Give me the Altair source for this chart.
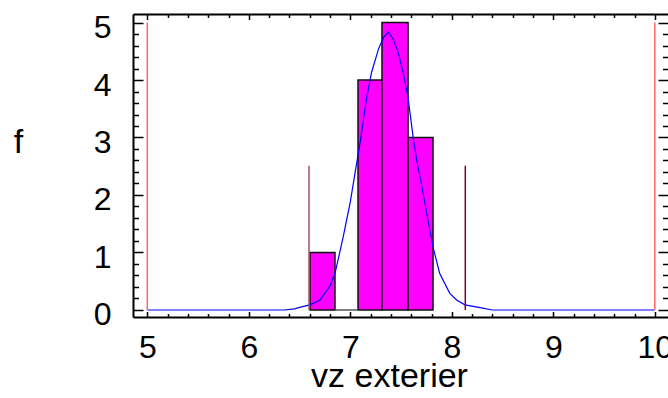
import altair as alt
import pandas as pd

# ---- data ----
bin_lo = [6.603, 7.076, 7.312, 7.569]
bin_hi = [6.849, 7.312, 7.569, 7.815]
counts = [1, 4, 5, 3]

empty_lo = [6.849]
empty_hi = [7.076]
empty_level = [0]

curve_x = [5.0, 6.35, 6.45, 6.51, 6.60, 6.70, 6.80, 6.85, 6.93, 7.00, 7.05, 7.10,
           7.16, 7.21, 7.28, 7.33, 7.375, 7.42, 7.47, 7.52, 7.57, 7.62, 7.66, 7.70,
           7.77, 7.82, 7.88, 7.98, 8.05, 8.13, 8.28, 8.40, 10.0]
curve_y = [0.0, 0.0, 0.02, 0.05, 0.09, 0.17, 0.42, 0.64, 1.27, 1.88, 2.42, 2.95,
           3.68, 4.14, 4.55, 4.75, 4.83, 4.72, 4.49, 4.14, 3.68, 2.99, 2.55, 2.20,
           1.51, 1.06, 0.64, 0.29, 0.17, 0.09, 0.04, 0.0, 0.0]

limit_x = [5.0, 10.0]
limit_top = [5.0, 5.0]

spec_left_x = [6.593]
spec_right_x = [8.133]
spec_top = [2.51]

x_major = [5, 6, 7, 8, 9, 10]
x_minor = [5.2, 5.4, 5.6, 5.8, 6.2, 6.4, 6.6, 6.8, 7.2, 7.4, 7.6, 7.8,
           8.2, 8.4, 8.6, 8.8, 9.2, 9.4, 9.6, 9.8]
y_major = [0, 1, 2, 3, 4, 5]
y_minor = [0.2, 0.4, 0.6, 0.8, 1.2, 1.4, 1.6, 1.8, 2.2, 2.4, 2.6, 2.8,
           3.2, 3.4, 3.6, 3.8, 4.2, 4.4, 4.6, 4.8]

X_DOMAIN = [4.859, 10.13]
Y_DOMAIN = [-0.122, 5.148]

FONT = "Liberation Sans"

bars_df = pd.DataFrame({"lo": bin_lo, "hi": bin_hi, "count": counts})
empty_df = pd.DataFrame({"lo": empty_lo, "hi": empty_hi, "level": empty_level})
curve_df = pd.DataFrame({"x": curve_x, "y": curve_y})
limit_df = pd.DataFrame({"x": limit_x, "top": limit_top, "bottom": [0, 0]})
specl_df = pd.DataFrame({"x": spec_left_x, "top": spec_top, "bottom": [0]})
specr_df = pd.DataFrame({"x": spec_right_x, "top": spec_top, "bottom": [0]})

xs = alt.Scale(domain=X_DOMAIN, nice=False, zero=False)
ys = alt.Scale(domain=Y_DOMAIN, nice=False, zero=False)


def tick_axis(orient, length, values):
    return alt.Axis(orient=orient, values=values, offset=-length, tickSize=length,
                    ticks=True, labels=False, domain=False, grid=False, title=None,
                    tickColor="black", tickWidth=1.5)


ax_bottom = alt.Axis(orient="bottom", values=x_major, ticks=False, tickSize=0,
                     domain=True, domainColor="black", domainWidth=2, grid=False,
                     labelFont=FONT, labelFontSize=32, labelColor="black",
                     labelBaseline="alphabetic", labelPadding=40, labelFlush=False,
                     labelOverlap=False,
                     title="vz exterier", titleFont=FONT, titleFontSize=34,
                     titleFontWeight="normal", titleColor="black",
                     titleBaseline="alphabetic", titleX=256, titleY=69,
                     titleAlign="center")
ax_left = alt.Axis(orient="left", values=y_major, ticks=False, tickSize=0,
                   domain=True, domainColor="black", domainWidth=2, grid=False,
                   labelFont=FONT, labelFontSize=32, labelColor="black",
                   labelBaseline="middle", labelPadding=22, labelOffset=5,
                   labelFlush=False, labelOverlap=False,
                   title="f", titleFont=FONT, titleFontSize=34,
                   titleFontWeight="normal", titleColor="black", titleAngle=0,
                   titleBaseline="middle", titleAlign="center",
                   titleX=-115, titleY=128)
ax_top_domain = alt.Axis(orient="top", values=x_major, ticks=False, tickSize=0,
                         labels=False, domain=True, domainColor="black",
                         domainWidth=2, grid=False, title=None)

bars = alt.Chart(bars_df).mark_bar(fill="#FF00FF", stroke="#111111", strokeWidth=1.5).encode(
    x=alt.X("lo:Q", scale=xs, axis=ax_bottom),
    x2="hi:Q",
    y=alt.Y("count:Q", scale=ys, axis=ax_left),
    y2=alt.datum(0),
)

empty = alt.Chart(empty_df).mark_rule(color="#555555", strokeWidth=1.5).encode(
    x=alt.X("lo:Q", scale=xs, axis=tick_axis("bottom", 5.5, x_major)),
    x2="hi:Q",
    y=alt.Y("level:Q", scale=ys, axis=tick_axis("left", 10, y_major)),
)

curve = alt.Chart(curve_df).mark_line(color="#0000FF", strokeWidth=1.2).encode(
    x=alt.X("x:Q", scale=xs, axis=tick_axis("bottom", 3.5, x_minor)),
    y=alt.Y("y:Q", scale=ys, axis=tick_axis("left", 5.5, y_minor)),
)

limits = alt.Chart(limit_df).mark_rule(color="#FF6666", strokeWidth=1.5).encode(
    x=alt.X("x:Q", scale=xs, axis=ax_top_domain),
    y=alt.Y("bottom:Q", scale=ys, axis=tick_axis("right", 10, y_major)),
    y2="top:Q",
)

spec_l = alt.Chart(specl_df).mark_rule(color="#A85070", strokeWidth=1.5).encode(
    x=alt.X("x:Q", scale=xs, axis=tick_axis("top", 5.5, x_major)),
    y=alt.Y("bottom:Q", scale=ys, axis=tick_axis("right", 5.5, y_minor)),
    y2="top:Q",
)

spec_r = alt.Chart(specr_df).mark_rule(color="#7A0030", strokeWidth=1.5).encode(
    x=alt.X("x:Q", scale=xs, axis=tick_axis("top", 3.5, x_minor)),
    y=alt.Y("bottom:Q", scale=ys, axis=None),
    y2="top:Q",
)

chart = alt.layer(bars, empty, curve, limits, spec_l, spec_r).resolve_scale(
    x="shared", y="shared"
).resolve_axis(
    x="independent", y="independent"
).properties(
    width=535, height=303,
    autosize=alt.AutoSizeParams(type="none"),
    padding={"left": 133, "top": 14, "right": 0, "bottom": 81},
    background="white",
).configure_view(stroke=None)

chart.save("out.html", embed_options={"renderer": "svg", "actions": False})
